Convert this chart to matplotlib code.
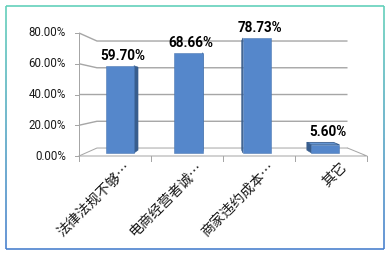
import numpy as np
import matplotlib
matplotlib.use('Agg')
import matplotlib.pyplot as plt
from matplotlib.patches import Polygon, FancyBboxPatch
from matplotlib.collections import LineCollection

#%% data
categories = ['法律法规不够…', '电商经营者诚…', '商家违约成本…', '其它']
values = [59.70, 68.66, 78.73, 5.60]
value_labels = ['59.70%', '68.66%', '78.73%', '5.60%']
yticks = [0, 20, 40, 60, 80]
ytick_labels = ['0.00%', '20.00%', '40.00%', '60.00%', '80.00%']

#%% fake 3D (excel style perspective)
VX, VY = 1.917, 39.9       # vanishing point in data units
S_WALL = 0.87              # scale of back wall
S_BF, S_BB = 0.951, 0.905  # bar front / back face scale
BW = 0.41                  # bar width (category units)
ncat = len(categories)

def proj(c, v, s):
    return (VX + (c - VX)*s, VY + (v - VY)*s)

W, H = 388, 254
fig = plt.figure(figsize=(W/72.0, H/72.0), dpi=72)
ax = fig.add_axes([0, 0, 1, 1])
# x: pixel 79 -> 0, 72 px per category ; y: pixel 156 -> 0, 1.5375 px per %
ax.set_xlim(-79/72.0, (W - 79)/72.0)
ax.set_ylim((156 - H)/1.5375, 156/1.5375)
ax.axis('off')

grid_c = '#a6a6a6'
# gridlines: left wall + back wall
for v in yticks:
    p0 = proj(0, v, 1.0)
    p1 = proj(0, v, S_WALL)
    p2 = proj(ncat, v, S_WALL)
    lw = 1.4 if v > 0 else 1.0
    ax.plot([p0[0], p1[0], p2[0]], [p0[1], p1[1], p2[1]], color=grid_c,
            lw=lw, solid_capstyle='butt', zorder=1)
# floor edges
f = [proj(0, 0, 1.0), proj(ncat, 0, 1.0), proj(ncat, 0, S_WALL)]
ax.plot([p[0] for p in f], [p[1] for p in f], color=grid_c, lw=1.0, zorder=1)
# front y axis
ax.plot([0, 0], [0, yticks[-1]], color=grid_c, lw=1.0, zorder=5)
for v, lab in zip(yticks, ytick_labels):
    ax.plot([-0.06, 0], [v, v], color=grid_c, lw=1.0, zorder=5)
    ax.annotate(lab, (0, v), xytext=(-13, 0), textcoords='offset points',
                ha='right', va='center', fontsize=11.5, family='Roboto',
                color='#1a1a1a')
# category ticks on front floor edge
for c in range(ncat + 1):
    ax.plot([c, c], [0, -3.5], color=grid_c, lw=1.0, zorder=5)

#%% bars
front_c = '#5587cb'
side_c = '#385d8d'
top_c = '#6596d4'
for i, v in enumerate(values):
    c0, c1 = i + 0.5 - BW/2, i + 0.5 + BW/2
    # side face
    cs = c1 if c1 < VX else c0
    side = [proj(cs, 0, S_BF), proj(cs, v, S_BF), proj(cs, v, S_BB), proj(cs, 0, S_BB)]
    ax.add_patch(Polygon(side, closed=True, fc=side_c, ec=side_c, lw=0.5, zorder=3))
    # top face if visible
    if v < VY:
        top = [proj(c0, v, S_BF), proj(c1, v, S_BF), proj(c1, v, S_BB), proj(c0, v, S_BB)]
        ax.add_patch(Polygon(top, closed=True, fc=top_c, ec=side_c, lw=0.8, zorder=3))
    front = [proj(c0, 0, S_BF), proj(c1, 0, S_BF), proj(c1, v, S_BF), proj(c0, v, S_BF)]
    ax.add_patch(Polygon(front, closed=True, fc=front_c, ec='#4674b0', lw=0.5, zorder=4))
    # value label
    top_y = max(proj(i + 0.5, v, S_BF)[1], proj(i + 0.5, v, S_BB)[1])
    ax.annotate(value_labels[i], (proj(i + 0.5, v, S_BF)[0] + 0.04, top_y),
                xytext=(0, 3), textcoords='offset points', ha='center',
                va='bottom', fontsize=13.5, fontweight='bold', family='Roboto',
                color='black', zorder=6)
    # category label
    ax.annotate(categories[i], (i + 0.5, 0), xytext=(9, -4),
                textcoords='offset points', rotation=45, ha='right', va='top',
                rotation_mode='anchor', fontsize=14,
                family=['Noto Sans CJK SC', 'DejaVu Sans'], color='#1a1a1a')

#%% rounded border with gradient colour
box = FancyBboxPatch((6, 6), 378, 243, boxstyle='round,pad=0,rounding_size=12')
verts = box.get_path().interpolated(60).vertices
segs = np.stack([verts[:-1], verts[1:]], axis=1)
ymid = segs[:, :, 1].mean(axis=1)
t = np.clip((ymid - 6)/243.0, 0, 1)
c_top = np.array([0.37, 0.81, 0.72])
c_bot = np.array([0.27, 0.49, 0.80])
cols = c_top[None, :]*(1 - t[:, None]) + c_bot[None, :]*t[:, None]
segs[:, :, 1] = H - segs[:, :, 1]
lc = LineCollection(segs, colors=cols, linewidths=1.6, transform=None, zorder=10)
fig.add_artist(lc)

fig.savefig('out.png', dpi=72, facecolor='white')
